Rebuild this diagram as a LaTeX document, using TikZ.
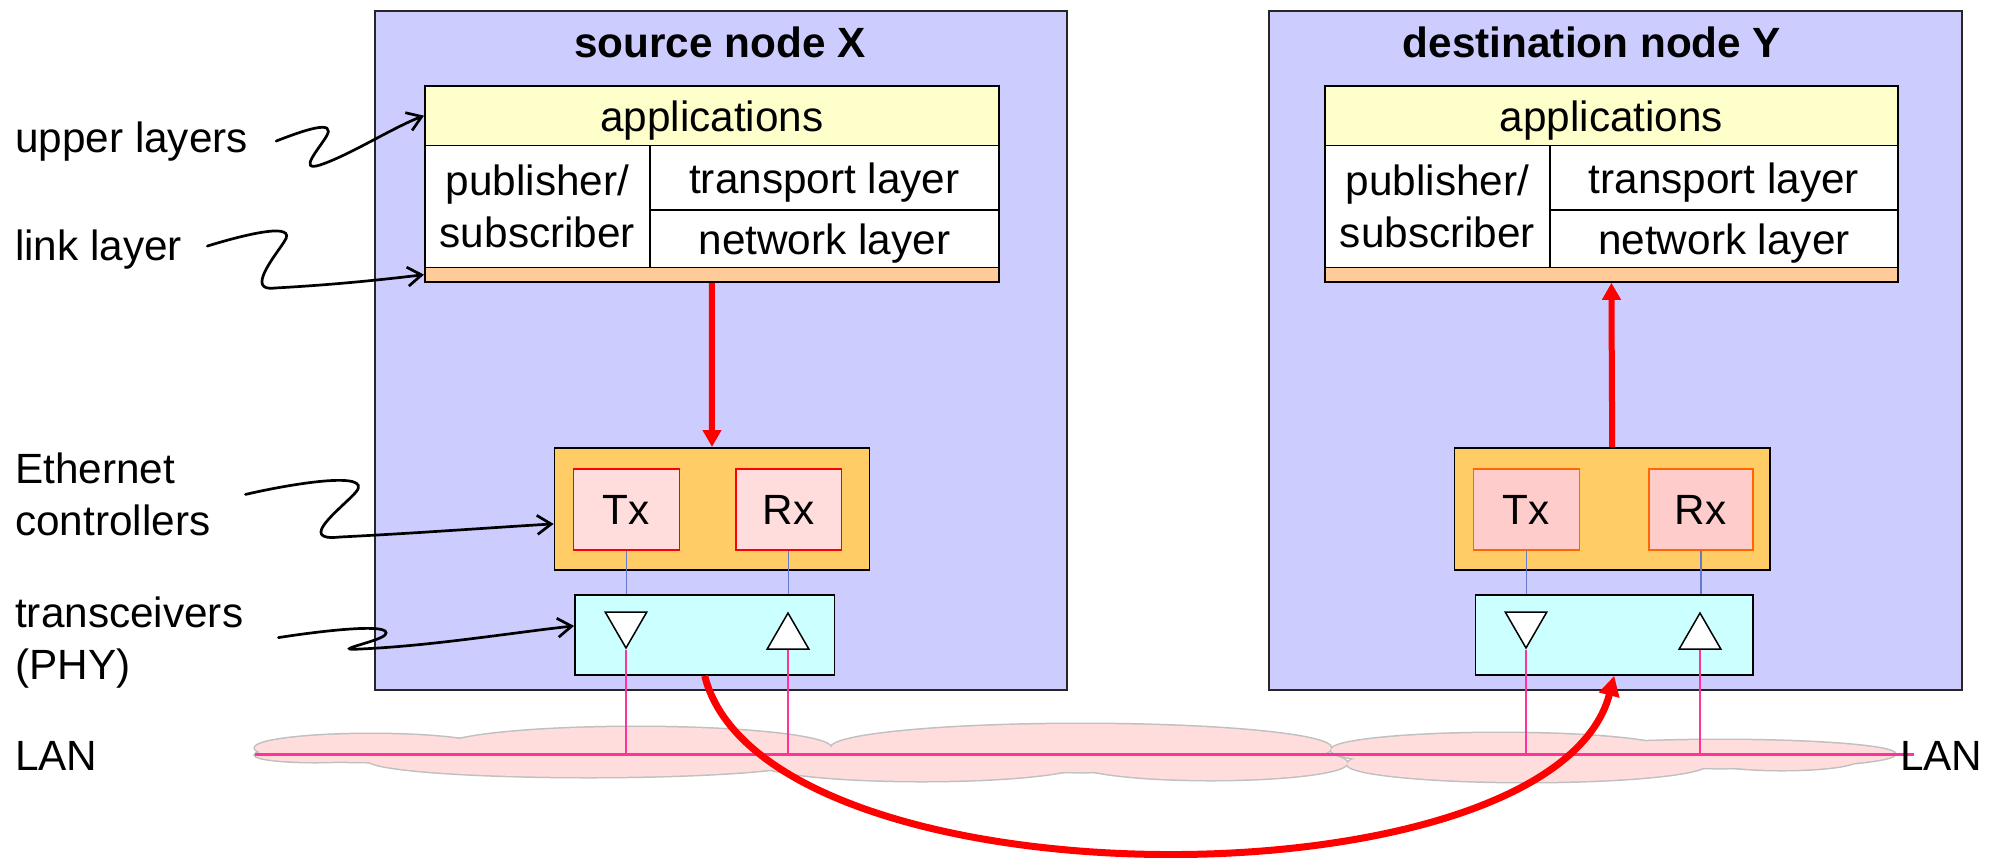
\documentclass[tikz,border=0pt]{standalone}
\usepackage{fontspec}
\setmainfont{Liberation Sans}
\usetikzlibrary{arrows.meta,shapes.geometric}

\definecolor{nodefill}{HTML}{CCCCFF}
\definecolor{appfill}{HTML}{FFFFCC}
\definecolor{linkfill}{HTML}{FFCC99}
\definecolor{ethfill}{HTML}{FFCC66}
\definecolor{txfill}{HTML}{FFDDDD}
\definecolor{txfillb}{HTML}{FFCCCC}
\definecolor{phyfill}{HTML}{CCFFFF}
\definecolor{lanpink}{HTML}{FF3399}
\definecolor{cloudfill}{HTML}{FFDDDD}
\definecolor{cloudline}{HTML}{C0C0C0}
\definecolor{wirecol}{HTML}{6677CC}
\definecolor{txline}{HTML}{FF6600}

\tikzset{
  every node/.style={font=\fontsize{42.3pt}{52pt}\selectfont, inner sep=0pt},
  station/.style={draw=black!85, line width=1.5pt, fill=nodefill, anchor=north west},
  title/.style={font=\fontsize{42.3pt}{52pt}\selectfont\bfseries, anchor=base},
  layer/.style={draw, line width=1.8pt, anchor=north west},
  celltext/.style={layer, text height=31pt, text depth=0pt},
  txrx/.style={celltext, line width=1.5pt, minimum height=81pt},
  tridown/.style={regular polygon, regular polygon sides=3, shape border rotate=180,
    draw, fill=white, line width=1.5pt, minimum size=48pt},
  triup/.style={regular polygon, regular polygon sides=3,
    draw, fill=white, line width=1.5pt, minimum size=48pt},
  lbl/.style={anchor=base west},
  lblm/.style={anchor=north west, align=left},
  wire/.style={draw=wirecol, line width=1.5pt},
  drop/.style={draw=lanpink, line width=1.6pt},
  lan/.style={draw=lanpink, line width=3pt},
  redarrow/.style={draw=red, line width=6pt, -{Triangle[length=17pt,width=18pt]}},
  bigarrow/.style={draw=red, line width=7pt, -{Triangle[length=20pt,width=20pt]}},
  squig/.style={line width=2.7pt, line cap=round, -{Straight Barb[length=14pt,width=19pt]}}
}

\def\cloudlobes{371/748/116/14, 636/748/195/21, 1081/748/250/24, 1500/750/169/17,
  1720/754/175/14, 315/755/60/7, 589/760/221/17, 922/763/162/18, 1211/763/136/17,
  1527/764/180/18, 1782/760/75/10}

\begin{document}
\begin{tikzpicture}[x=1pt, y=-1pt]
  \useasboundingbox (0,0) rectangle (1999,857);

  % the two stations
  \node[station, minimum width=692pt, minimum height=679pt] (srcBox) at (374,10) {};
  \node[station, minimum width=693pt, minimum height=679pt] (dstBox) at (1268,10) {};
  \node[title] (srcTitle) at (720,57) {source node X};
  \node[title] (dstTitle) at (1592,57) {destination node Y};

  % protocol stack X
  \node[celltext, fill=appfill, minimum width=574pt, minimum height=59.5pt] (appX) at (424,85) {applications};
  \node[layer, fill=white, align=center, minimum width=225pt, minimum height=122pt] (pubX) at (424,144.5) {publisher/\\subscriber};
  \node[celltext, fill=white, minimum width=349pt, minimum height=64.5pt] (trpX) at (649,144.5) {transport layer};
  \node[celltext, fill=white, minimum width=349pt, minimum height=57.5pt] (netX) at (649,209) {network layer};
  \node[layer, fill=linkfill, minimum width=574pt, minimum height=14.5pt] (linkX) at (424,266.5) {};

  % protocol stack Y
  \node[celltext, fill=appfill, minimum width=573pt, minimum height=59.5pt] (appY) at (1324,85) {applications};
  \node[layer, fill=white, align=center, minimum width=225pt, minimum height=122pt] (pubY) at (1324,144.5) {publisher/\\subscriber};
  \node[celltext, fill=white, minimum width=348pt, minimum height=64.5pt] (trpY) at (1549,144.5) {transport layer};
  \node[celltext, fill=white, minimum width=348pt, minimum height=57.5pt] (netY) at (1549,209) {network layer};
  \node[layer, fill=linkfill, minimum width=573pt, minimum height=14.5pt] (linkY) at (1324,266.5) {};

  % Ethernet controllers and transceivers
  \node[layer, fill=ethfill, minimum width=315pt, minimum height=122pt] (ethX) at (553.6,447) {};
  \node[txrx, draw=red, fill=txfill, minimum width=106pt] (txX) at (572.7,468) {Tx};
  \node[txrx, draw=red, fill=txfill, minimum width=105.6pt] (rxX) at (735,468) {Rx};
  \node[layer, fill=phyfill, minimum width=259.5pt, minimum height=80pt] (phyX) at (574,594) {};
  \node[tridown] (tdX) at (626,624) {};
  \node[triup] (tuX) at (788,637) {};

  \node[layer, fill=ethfill, minimum width=315.4pt, minimum height=122pt] (ethY) at (1453.6,447) {};
  \node[txrx, draw=txline, fill=txfillb, minimum width=105.8pt] (txY) at (1472.7,468) {Tx};
  \node[txrx, draw=txline, fill=txfillb, minimum width=104pt] (rxY) at (1648,468) {Rx};
  \node[layer, fill=phyfill, minimum width=277.4pt, minimum height=80pt] (phyY) at (1474.6,594) {};
  \node[tridown] (tdY) at (1526,624) {};
  \node[triup] (tuY) at (1700,637) {};

  \foreach \s in {X,Y} {
    \draw[wire] (tx\s.south) -- (tx\s.south |- phy\s.north);
    \draw[wire] (rx\s.south) -- (rx\s.south |- phy\s.north);
  }
  \draw[redarrow] (linkX.south) -- (ethX.north);
  \draw[redarrow] (ethY.north) -- (linkY.south);

  % LAN cloud
  \foreach \cx/\cy/\rx/\ry in \cloudlobes
    \filldraw[fill=cloudfill, draw=cloudline, line width=3pt] (\cx,\cy) ellipse [x radius=\rx, y radius=\ry];
  \foreach \cx/\cy/\rx/\ry in \cloudlobes
    \fill[cloudfill] (\cx,\cy) ellipse [x radius=\rx, y radius=\ry];
  \coordinate (lanL) at (255,754);
  \coordinate (lanR) at (1914,754);
  \draw[lan] (lanL) -- (lanR);
  \foreach \t in {tdX,tuX,tdY,tuY}
    \draw[drop] (\t.south) -- (\t.south |- lanL);

  \draw[bigarrow] (phyX.south) .. controls (764,911) and (1553,911) .. (phyY.south);

  % labels on the left
  \node[lbl] (lblUp) at (15,152) {upper layers};
  \node[lbl] (lblLink) at (15,260) {link layer};
  \node[lblm] (lblEth) at (15,452.7) {Ethernet\\controllers};
  \node[lblm] (lblPhy) at (15,596.7) {transceivers\\(PHY)};
  \node[lbl] (lblLanL) at (15,770) {LAN};
  \node[lbl] (lblLanR) at (1900,770) {LAN};

  \draw[squig] ([xshift=28pt]lblUp.east) .. controls (302,131) and (338,118) .. (326,137)
    .. controls (318,150) and (298,172) .. (320,165) .. controls (350,155) and (392,128) .. (appX.west);
  \draw[squig] ([xshift=25pt,yshift=3pt]lblLink.east) .. controls (240,236) and (300,220) .. (284,242)
    .. controls (275,256) and (245,292) .. (275,288) .. controls (330,285) and (380,280) .. (linkX.west);
  \draw[squig] ([xshift=35pt]lblEth.east) .. controls (290,484) and (374,470) .. (356,492)
    .. controls (342,508) and (295,542) .. (340,537) .. controls (420,533) and (500,527) .. ([yshift=-15pt]ethX.west);
  \draw[squig] ([xshift=35pt,yshift=5pt]lblPhy.east) .. controls (320,631) and (396,622) .. (385,635)
    .. controls (378,642) and (328,651) .. (360,649) .. controls (430,646) and (510,633) .. ([yshift=9pt]phyX.west);
\end{tikzpicture}
\end{document}
